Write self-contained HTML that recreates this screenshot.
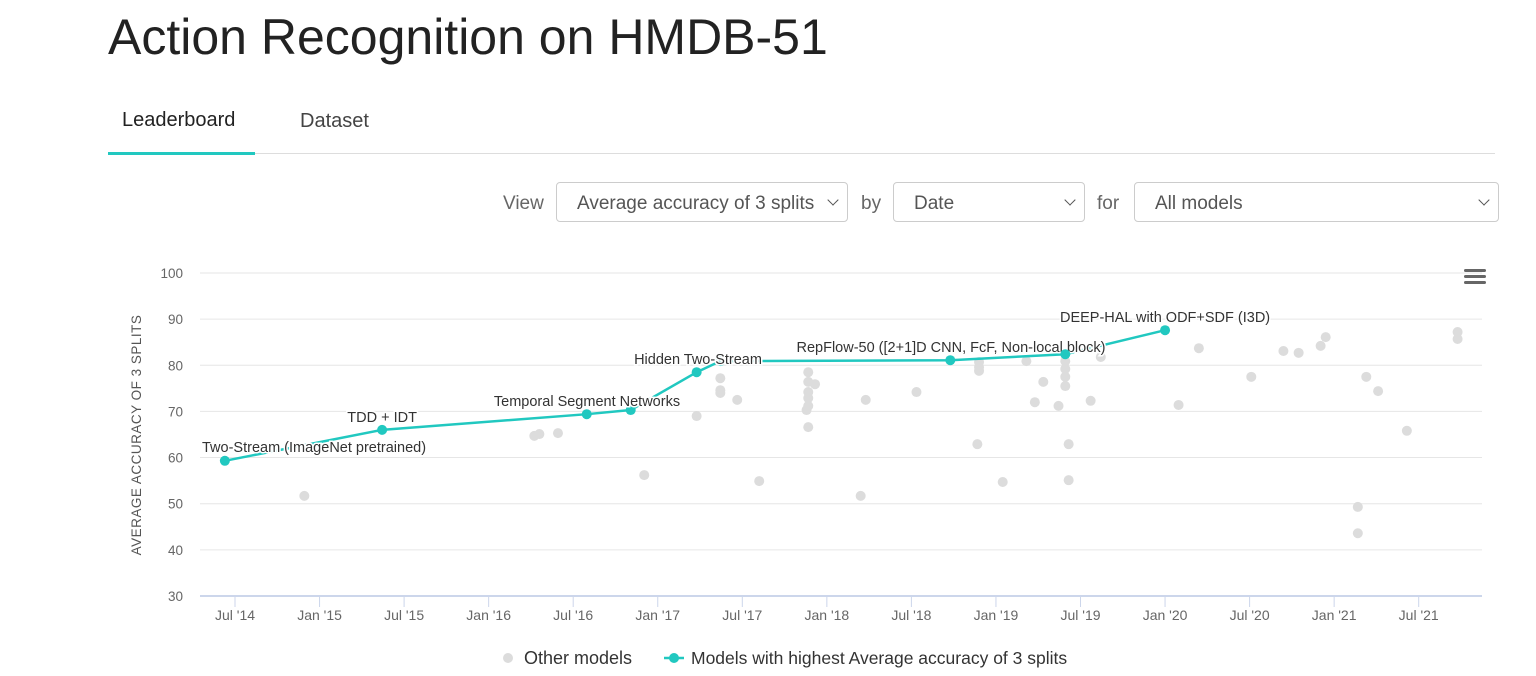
<!DOCTYPE html>
<html><head><meta charset="utf-8">
<style>
body{margin:0;width:1536px;height:676px;background:#fff;font-family:"Liberation Sans",sans-serif;overflow:hidden;position:relative}
.t{position:absolute}
.sel{position:absolute;top:182px;height:40px;border:1px solid #ccc;border-radius:4px;box-sizing:border-box;font-size:19px;color:#555;padding:10px 20px;}
.sel:after{content:"";position:absolute;right:10px;top:13px;width:7px;height:7px;border-right:1.5px solid #555;border-bottom:1.5px solid #555;transform:rotate(45deg)}
.lbl{position:absolute;top:193px;font-size:19px;color:#666}
</style></head><body>
<div class="t" style="left:108px;top:8px;font-size:50px;color:#222">Action Recognition on HMDB-51</div>
<div class="t" style="left:122px;top:109px;font-size:20px;color:#222">Leaderboard</div>
<div class="t" style="left:300px;top:110px;font-size:20px;color:#444">Dataset</div>
<div class="t" style="left:108px;top:153px;width:1387px;height:1px;background:#ddd"></div>
<div class="t" style="left:108px;top:152px;width:147px;height:3px;background:#21c8c0"></div>
<div class="lbl" style="left:503px">View</div>
<div class="sel" style="left:556px;width:292px">Average accuracy of 3 splits</div>
<div class="lbl" style="left:861px">by</div>
<div class="sel" style="left:893px;width:192px">Date</div>
<div class="lbl" style="left:1097px">for</div>
<div class="sel" style="left:1134px;width:365px">All models</div>
<svg id="chart" width="1536" height="676" style="position:absolute;left:0;top:0" font-family="Liberation Sans, sans-serif"></svg>
<script>
const yTicks=[30,40,50,60,70,80,90,100];
const xTickLabels=["Jul '14","Jan '15","Jul '15","Jan '16","Jul '16","Jan '17","Jul '17","Jan '18","Jul '18","Jan '19","Jul '19","Jan '20","Jul '20","Jan '21","Jul '21"];
const xTickYears=[2014.5,2015,2015.5,2016,2016.5,2017,2017.5,2018,2018.5,2019,2019.5,2020,2020.5,2021,2021.5];
const bestYears=[2014.44,2015.37,2016.58,2016.84,2017.23,2017.37,2018.73,2019.41,2020.0];
const bestValues=[59.3,66.0,69.4,70.3,78.5,80.9,81.1,82.4,87.6];
const bestLabels=["Two-Stream (ImageNet pretrained)","TDD + IDT","","Temporal Segment Networks","","Hidden Two-Stream","RepFlow-50 ([2+1]D CNN, FcF, Non-local block)","","DEEP-HAL with ODF+SDF (I3D)"];
const otherYears=[2014.91,2016.27,2016.30,2016.41,2016.92,2017.23,2017.37,2017.37,2017.37,2017.47,2017.6,2017.89,2017.89,2017.89,2017.89,2017.89,2017.89,2017.88,2017.93,2018.2,2018.23,2018.53,2018.89,2018.9,2018.9,2018.9,2019.04,2019.18,2019.23,2019.28,2019.37,2019.41,2019.41,2019.41,2019.41,2019.43,2019.43,2019.56,2019.62,2020.08,2020.2,2020.51,2020.7,2020.79,2020.92,2020.95,2021.14,2021.14,2021.19,2021.26,2021.43,2021.73,2021.73];
const otherValues=[51.7,64.7,65.1,65.3,56.2,69.0,77.2,74.6,74.0,72.5,54.9,78.5,76.4,74.2,72.9,71.2,66.6,70.3,75.9,51.7,72.5,74.2,62.9,80.7,79.6,78.8,54.7,80.9,72.0,76.4,71.2,80.9,79.2,77.5,75.5,62.9,55.1,72.3,81.8,71.4,83.7,77.5,83.1,82.7,84.2,86.1,49.3,43.6,77.5,74.4,65.8,87.2,85.7];
const X=y=>235+(y-2014.5)*169.1, Y=v=>273+(100-v)*4.614;
const svg=document.getElementById('chart'),NS='http://www.w3.org/2000/svg';
function mk(tag,a,txt){const e=document.createElementNS(NS,tag);for(const k in a)e.setAttribute(k,a[k]);if(txt!=null)e.textContent=txt;svg.appendChild(e);return e;}
yTicks.forEach(v=>{
 let g=mk('line',{x1:200,x2:1482,y1:Y(v),y2:Y(v),stroke:v===30?'#ccd6eb':'#e6e6e6','stroke-width':v===30?2:1});
 
 
 let t=mk('text',{x:183,y:Y(v)+5,'text-anchor':'end','font-size':13.5,fill:'#666'},v);
 
 
});
xTickLabels.forEach((l,i)=>{
 const x=X(xTickYears[i]);
 let tk=mk('line',{x1:x,x2:x,y1:597,y2:607,stroke:'#ccd6eb'});
 
 
 let t=mk('text',{x:x,y:620,'text-anchor':'middle','font-size':14,fill:'#666'},l);
 
 
});
let yt=mk('text',{x:0,y:0,transform:'translate(141,435) rotate(-90)','text-anchor':'middle','font-size':13.5,fill:'#555','letter-spacing':'0.5'},'AVERAGE ACCURACY OF 3 SPLITS');


otherYears.forEach((yr,i)=>{
 let c=mk('circle',{cx:X(yr),cy:Y(otherValues[i]),r:5,fill:'#dcdcdc'});
 
 
});
let ln=mk('polyline',{points:bestYears.map((y,i)=>X(y)+','+Y(bestValues[i])).join(' '),fill:'none',stroke:'#21c8c0','stroke-width':2.5});


bestYears.forEach((yr,i)=>{
 let c=mk('circle',{cx:X(yr),cy:Y(bestValues[i]),r:5,fill:'#21c8c0'});
 
 
 if(bestLabels[i]){
  let t=mk('text',{x:X(yr),y:Y(bestValues[i])-10,'text-anchor':'middle','font-size':14.5,fill:'#333',stroke:'#fff','stroke-width':3,'paint-order':'stroke'},bestLabels[i]);
  if(i===0){t.setAttribute('text-anchor','start');t.setAttribute('x',202);t.setAttribute('y',Y(bestValues[i])-9);}
  if(i===1){t.setAttribute('y',Y(bestValues[i])-8);}
  if(i===3){t.setAttribute('x',587);t.setAttribute('y',406);}
  if(i===5){t.setAttribute('x',698);t.setAttribute('y',364);}
  if(i===6){t.setAttribute('x',951);t.setAttribute('y',352);}
  if(i===8){t.setAttribute('y',322);}
  
  
 }
});
[[1464,269],[1464,275],[1464,281]].forEach(p=>{let r=mk('rect',{x:p[0],y:p[1],width:22,height:3,rx:1.5,fill:'#666'});});
let l1=mk('circle',{cx:508,cy:658,r:5,fill:'#dcdcdc'});


let lt1=mk('text',{x:524,y:664,'font-size':18,fill:'#333'},'Other models');


let l2=mk('line',{x1:664,x2:684,y1:658,y2:658,stroke:'#21c8c0','stroke-width':2.5});


let l3=mk('circle',{cx:674,cy:658,r:5,fill:'#21c8c0'});


let lt2=mk('text',{x:691,y:664,'font-size':17.5,fill:'#333'},'Models with highest Average accuracy of 3 splits');


</script>
</body></html>
